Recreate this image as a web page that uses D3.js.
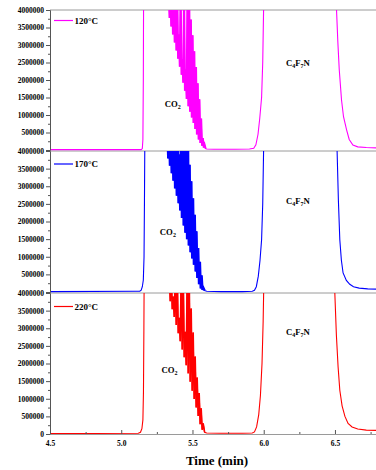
<!DOCTYPE html>
<html>
<head>
<meta charset="utf-8">
<script src="https://cdn.jsdelivr.net/npm/d3@7"></script>
<style>
  html, body { margin: 0; padding: 0; background: #fff; }
  svg { display: block; }
  text { font-family: "Liberation Serif", "Times New Roman", serif; font-weight: bold; fill: #000; }
</style>
</head>
<body>
<div id="chart"></div>
<script>
// signal values below are in millions of counts
const UNIT = 1e6;

const temps = ["120°C", "170°C", "220°C"];
const colors = ["#ff00ff", "#0000ff", "#ff0000"];
const xTicks = [4.5, 5.0, 5.5, 6.0, 6.5];
const xMinor = [4.75, 5.25, 5.75, 6.25, 6.75];
const yTicks = [500000, 1000000, 1500000, 2000000, 2500000, 3000000, 3500000, 4000000];
const yMinor = [250000, 750000, 1250000, 1750000, 2250000, 2750000, 3250000, 3750000];

// [time (min), signal (M)]
const trace120 = [
  [4.50, 0.01], [5.140, 0.01], [5.148, 0.04], [5.152, 0.3], [5.155, 2.0], [5.157, 4.6],
  [5.320, 4.6],
  [5.327, 4.0], [5.333, 4.6], [5.339, 3.77], [5.345, 4.6], [5.351, 3.53], [5.357, 4.6],
  [5.363, 3.30], [5.369, 4.6], [5.375, 3.07], [5.381, 4.6], [5.387, 2.84], [5.393, 4.6],
  [5.399, 2.61], [5.405, 3.3], [5.411, 2.38], [5.417, 4.6], [5.423, 2.15], [5.429, 2.6],
  [5.435, 1.92], [5.441, 4.6], [5.447, 1.69], [5.453, 2.3], [5.459, 1.46], [5.465, 4.6],
  [5.471, 1.25], [5.477, 4.6], [5.483, 1.09], [5.489, 3.73], [5.495, 0.93], [5.501, 3.28],
  [5.507, 0.77], [5.513, 2.82], [5.519, 0.60], [5.525, 2.37], [5.531, 0.44], [5.537, 1.91],
  [5.543, 0.30], [5.549, 1.45], [5.555, 0.20], [5.561, 0.9], [5.567, 0.12], [5.573, 0.34],
  [5.579, 0.07], [5.585, 0.15], [5.592, 0.04],
  [5.60, 0.03], [5.65, 0.02], [5.80, 0.02], [5.90, 0.03], [5.93, 0.05], [5.945, 0.15],
  [5.960, 0.45], [5.972, 0.9], [5.985, 1.5], [5.993, 2.5], [5.999, 4.0], [6.004, 4.6],
  [6.505, 4.6], [6.511, 4.0], [6.520, 3.1], [6.530, 2.3], [6.546, 1.43], [6.560, 0.95],
  [6.582, 0.57], [6.600, 0.3], [6.626, 0.14], [6.66, 0.09], [6.72, 0.07], [6.80, 0.06]
];

const trace170 = [
  [4.50, 0.01], [5.100, 0.02], [5.130, 0.02], [5.140, 0.05], [5.148, 0.15], [5.155, 0.34],
  [5.160, 1.0], [5.163, 2.6], [5.166, 4.6],
  [5.312, 4.6],
  [5.318, 4.0], [5.324, 4.6], [5.330, 3.79], [5.336, 4.6], [5.342, 3.58], [5.348, 4.6],
  [5.354, 3.37], [5.360, 4.6], [5.366, 3.16], [5.372, 4.6], [5.378, 2.94], [5.384, 4.1],
  [5.390, 2.73], [5.396, 4.6], [5.402, 2.52], [5.408, 3.9], [5.414, 2.31], [5.420, 4.6],
  [5.426, 2.10], [5.432, 4.6], [5.438, 1.89], [5.444, 4.6], [5.450, 1.68], [5.456, 4.6],
  [5.462, 1.50], [5.468, 4.6], [5.474, 1.32], [5.480, 3.61], [5.486, 1.13], [5.492, 3.14],
  [5.498, 0.95], [5.504, 2.66], [5.510, 0.77], [5.516, 2.19], [5.522, 0.58], [5.528, 1.72],
  [5.534, 0.40], [5.540, 1.25], [5.546, 0.22], [5.552, 0.86], [5.558, 0.10], [5.564, 0.47],
  [5.570, 0.06], [5.576, 0.12], [5.585, 0.04],
  [5.60, 0.02], [5.70, 0.01], [5.85, 0.01], [5.92, 0.02], [5.935, 0.05], [5.948, 0.15],
  [5.962, 0.45], [5.974, 0.9], [5.985, 1.48], [5.993, 2.5], [5.999, 4.0], [6.004, 4.6],
  [6.510, 4.6], [6.515, 4.0], [6.524, 2.6], [6.534, 1.48], [6.545, 0.9], [6.557, 0.54],
  [6.580, 0.33], [6.604, 0.22], [6.63, 0.15], [6.67, 0.11], [6.73, 0.09], [6.80, 0.08]
];

const trace220 = [
  [4.50, 0.01], [5.120, 0.02], [5.135, 0.05], [5.145, 0.15], [5.152, 0.4], [5.156, 1.2],
  [5.159, 3.0], [5.161, 4.6],
  [5.324, 4.6],
  [5.330, 4.0], [5.337, 4.6], [5.344, 3.77], [5.351, 4.6], [5.358, 3.54], [5.365, 3.9],
  [5.372, 3.32], [5.379, 4.6], [5.386, 3.09], [5.393, 4.6], [5.400, 2.86], [5.407, 3.3],
  [5.414, 2.63], [5.421, 4.6], [5.428, 2.40], [5.435, 4.6], [5.442, 2.18], [5.449, 2.9],
  [5.456, 1.95], [5.463, 4.6], [5.470, 1.72], [5.477, 4.6], [5.484, 1.48], [5.491, 3.56],
  [5.498, 1.23], [5.505, 2.88], [5.512, 0.99], [5.519, 2.2], [5.526, 0.75], [5.533, 1.6],
  [5.540, 0.51], [5.547, 1.16], [5.554, 0.28], [5.561, 0.73], [5.568, 0.12], [5.575, 0.30],
  [5.585, 0.05],
  [5.60, 0.03], [5.70, 0.02], [5.85, 0.02], [5.92, 0.03], [5.935, 0.06], [5.950, 0.2],
  [5.965, 0.55], [5.977, 1.1], [5.988, 2.0], [5.996, 3.2], [6.002, 4.6],
  [6.495, 4.6], [6.499, 4.0], [6.510, 2.8], [6.522, 1.9], [6.534, 1.24], [6.550, 0.8],
  [6.570, 0.5], [6.592, 0.30], [6.62, 0.2], [6.66, 0.14], [6.72, 0.11], [6.80, 0.1]
];

const traces = [trace120, trace170, trace220];

// time window of the noisy CO2 burst in each trace
const burstWindow = [[5.32, 5.595], [5.312, 5.59], [5.324, 5.59]];

// peak labels, placed in data coordinates [time, signal (M)]
const co2Pos = [[5.306, 1.23], [5.271, 1.62], [5.283, 1.73]];
const c4f7nPos = [[6.156, 2.4], [6.156, 2.5], [6.156, 2.81]];

const width = 376, height = 470;
const left = 50;
const panels = [
  { top: 10, bottom: 150, legendY: 20.5, burstStroke: 2.0 },
  { top: 151, bottom: 292, legendY: 164, burstStroke: 2.4 },
  { top: 293, bottom: 434, legendY: 306.5, burstStroke: 1.6 }
];

const x = d3.scaleLinear().domain([4.5, 6.788]).range([left, width]);

const svg = d3.select('#chart').append('svg')
  .attr('width', width)
  .attr('height', height);

const defs = svg.append('defs');
const bg = svg.append('g');
const plots = svg.append('g');
const fg = svg.append('g');

panels.forEach((p, i) => {
  const y = d3.scaleLinear().domain([0, 4000000]).range([p.bottom, p.top]);

  defs.append('clipPath').attr('id', 'clip' + i)
    .append('rect')
    .attr('x', left)
    .attr('y', p.top)
    .attr('width', width - left)
    .attr('height', p.bottom - p.top + 1.5);

  // top frame line of each panel
  bg.append('line')
    .attr('x1', left).attr('x2', width)
    .attr('y1', p.top).attr('y2', p.top)
    .attr('stroke', '#9a9a9a')
    .attr('stroke-width', 1);

  const line = d3.line()
    .x(d => x(d[0]))
    .y(d => y(d[1] * UNIT));

  plots.append('path')
    .datum(traces[i])
    .attr('clip-path', `url(#clip${i})`)
    .attr('fill', 'none')
    .attr('stroke', colors[i])
    .attr('stroke-width', 1.1)
    .attr('d', line);

  // the burst is printed denser in the original, so draw it with a heavier pen
  const [b0, b1] = burstWindow[i];
  plots.append('path')
    .datum(traces[i].filter(d => d[0] >= b0 && d[0] <= b1))
    .attr('clip-path', `url(#clip${i})`)
    .attr('fill', 'none')
    .attr('stroke', colors[i])
    .attr('stroke-width', p.burstStroke)
    .attr('d', line);

  // y axis
  const ticks = i === panels.length - 1 ? [0].concat(yTicks) : yTicks;
  const yAxis = fg.append('g')
    .attr('transform', `translate(${left},0)`)
    .call(d3.axisLeft(y).tickValues(ticks).tickSize(4).tickPadding(2).tickFormat(d3.format('d')));
  yAxis.select('.domain').attr('stroke', '#555');
  yAxis.selectAll('.tick line').attr('stroke', '#555');
  yAxis.selectAll('text').style('font-size', '7.5px');

  const yMin = fg.append('g')
    .attr('transform', `translate(${left},0)`)
    .call(d3.axisLeft(y).tickValues(yMinor).tickSize(2).tickFormat(''));
  yMin.select('.domain').remove();
  yMin.selectAll('.tick line').attr('stroke', '#555');

  // legend
  fg.append('line')
    .attr('x1', 54).attr('x2', 73)
    .attr('y1', p.legendY).attr('y2', p.legendY)
    .attr('stroke', colors[i])
    .attr('stroke-width', 1.2);
  fg.append('text')
    .attr('x', 74.5)
    .attr('y', p.legendY + 3.2)
    .style('font-size', '9px')
    .text(temps[i]);

  // CO2 label
  const co2 = fg.append('text')
    .attr('x', x(co2Pos[i][0]))
    .attr('y', y(co2Pos[i][1] * UNIT))
    .style('font-size', '8.7px');
  co2.append('tspan').text('CO');
  co2.append('tspan').attr('dy', 1.8).style('font-size', '6px').text('2');

  // C4F7N label
  const cf = fg.append('text')
    .attr('x', x(c4f7nPos[i][0]))
    .attr('y', y(c4f7nPos[i][1] * UNIT))
    .style('font-size', '8.7px');
  cf.append('tspan').text('C');
  cf.append('tspan').attr('dy', 1.8).style('font-size', '6px').text('4');
  cf.append('tspan').attr('dy', -1.8).text('F');
  cf.append('tspan').attr('dy', 1.8).style('font-size', '6px').text('7');
  cf.append('tspan').attr('dy', -1.8).text('N');
});

// x axis below the last panel, ticks pointing inward
const bottom = panels[panels.length - 1].bottom;
const xAxis = fg.append('g')
  .attr('transform', `translate(0,${bottom})`)
  .call(d3.axisBottom(x).tickValues(xTicks).tickSizeInner(-4).tickSizeOuter(0).tickPadding(7).tickFormat(d3.format('.1f')));
xAxis.select('.domain').attr('stroke', '#9a9a9a');
xAxis.selectAll('.tick line').attr('stroke', '#555');
xAxis.selectAll('text').style('font-size', '7.5px');

const xMin = fg.append('g')
  .attr('transform', `translate(0,${bottom})`)
  .call(d3.axisBottom(x).tickValues(xMinor).tickSizeInner(-2).tickSizeOuter(0).tickFormat(''));
xMin.select('.domain').remove();
xMin.selectAll('.tick line').attr('stroke', '#555');

fg.append('text')
  .attr('x', 217)
  .attr('y', 465)
  .attr('text-anchor', 'middle')
  .style('font-size', '13px')
  .text('Time (min)');
</script>
</body>
</html>
